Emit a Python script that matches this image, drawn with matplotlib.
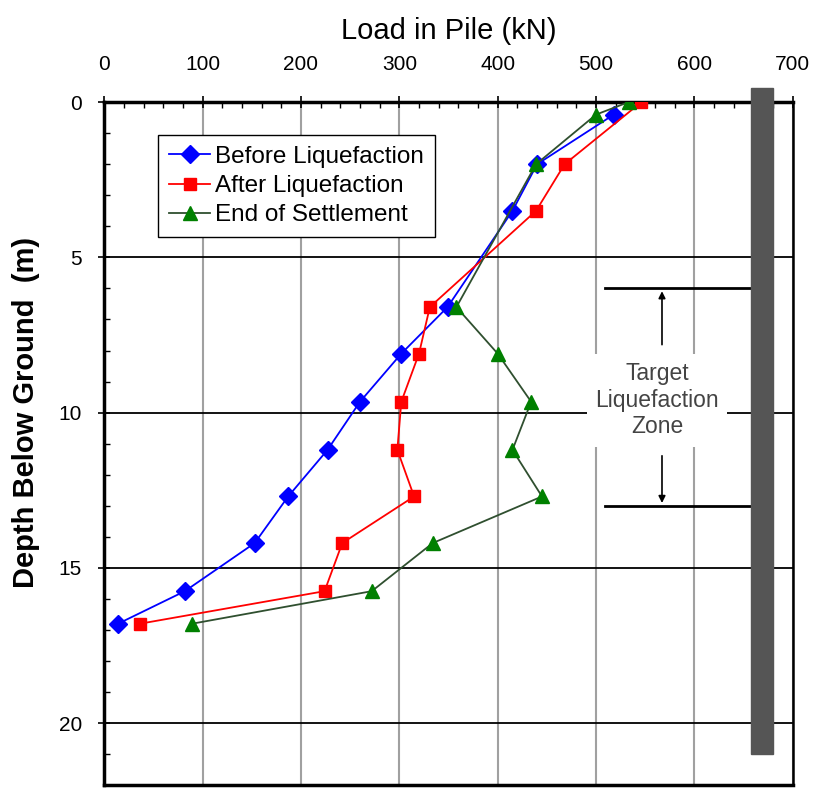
import numpy as np
import matplotlib.pyplot as plt
from matplotlib.ticker import MultipleLocator

plt.rcParams['font.family'] = ['Liberation Sans', 'DejaVu Sans']

# load in pile (kN) vs depth (m)
before_depth = [0.4, 2.0, 3.5, 6.6, 8.1, 9.65, 11.2, 12.7, 14.2, 15.75, 16.8]
before_load = [518, 440, 415, 349, 302, 260, 227, 187, 153, 82, 14]

after_depth = [0.0, 2.0, 3.5, 6.6, 8.1, 9.65, 11.2, 12.7, 14.2, 15.75, 16.8]
after_load = [546, 468, 439, 331, 320, 302, 298, 315, 242, 224, 36]

settle_depth = [0.0, 0.4, 2.0, 6.6, 8.1, 9.65, 11.2, 12.7, 14.2, 15.75, 16.8]
settle_load = [533, 500, 439, 358, 400, 434, 415, 445, 334, 272, 89]

zone_top = 6.0
zone_bottom = 13.0

fig = plt.figure(figsize=(8.14, 7.98), dpi=100)
ax = fig.add_axes([0.128, 0.016, 0.846, 0.856])

ax.plot(before_load, before_depth, color='#0000ff', lw=1.3, marker='D', ms=9,
        mfc='#0000ff', mec='#0000ff', label='Before Liquefaction', zorder=4)
ax.plot(after_load, after_depth, color='#ff0000', lw=1.3, marker='s', ms=9,
        mfc='#ff0000', mec='#ff0000', label='After Liquefaction', zorder=4)
ax.plot(settle_load, settle_depth, color='#2f4f2f', lw=1.3, marker='^', ms=10,
        mfc='#008000', mec='#008000', label='End of Settlement', zorder=4)

# pile
ax.add_patch(plt.Rectangle((657, -0.45), 23, 21.45, color='#555555', clip_on=False, zorder=5))

# target liquefaction zone
ax.plot([509, 657], [zone_top, zone_top], color='black', lw=2, zorder=3)
ax.plot([509, 657], [zone_bottom, zone_bottom], color='black', lw=2, zorder=3)
ax.annotate('', xy=(567, zone_top), xytext=(567, 7.9),
            arrowprops=dict(arrowstyle='-|>', color='black', lw=1.2, mutation_scale=10))
ax.annotate('', xy=(567, zone_bottom), xytext=(567, 11.3),
            arrowprops=dict(arrowstyle='-|>', color='black', lw=1.2, mutation_scale=10))
ax.text(562, 9.6, 'Target\nLiquefaction\nZone', ha='center', va='center', fontsize=16.5,
        color='#444444', linespacing=1.2, zorder=3,
        bbox=dict(facecolor='white', edgecolor='none', pad=6))

ax.set_xlim(0, 700)
ax.set_ylim(22, 0)
ax.xaxis.tick_top()
ax.xaxis.set_label_position('top')
ax.set_xticks(np.arange(0, 701, 100))
ax.set_yticks([0, 5, 10, 15, 20])
ax.xaxis.set_minor_locator(MultipleLocator(20))
ax.yaxis.set_minor_locator(MultipleLocator(1))
ax.tick_params(which='major', direction='inout', length=8, width=1.2, labelsize=15)
ax.tick_params(axis='x', which='major', pad=16)
ax.tick_params(axis='y', which='major', pad=12)
ax.tick_params(which='minor', direction='in', length=4, width=1)

ax.grid(axis='x', color='#a0a0a0', lw=1.5, zorder=1)
ax.grid(axis='y', color='black', lw=1.3, zorder=1)
ax.set_axisbelow(True)
for side in ['left', 'top', 'bottom']:
    ax.spines[side].set_linewidth(2.5)
ax.spines['right'].set_linewidth(1.8)

ax.set_xlabel('Load in Pile (kN)', fontsize=21, labelpad=12)
ax.set_ylabel('Depth Below Ground  (m)', fontsize=21, fontweight='bold')
ax.yaxis.set_label_coords(-0.093, 0.546)

ax.legend(loc='upper left', bbox_to_anchor=(0.078, 0.952), fontsize=17.5, frameon=True,
          fancybox=False, edgecolor='black', handlelength=1.7, handletextpad=0.2,
          labelspacing=0.3, borderpad=0.45, borderaxespad=0, framealpha=1)

plt.savefig('out.png', dpi=100)
